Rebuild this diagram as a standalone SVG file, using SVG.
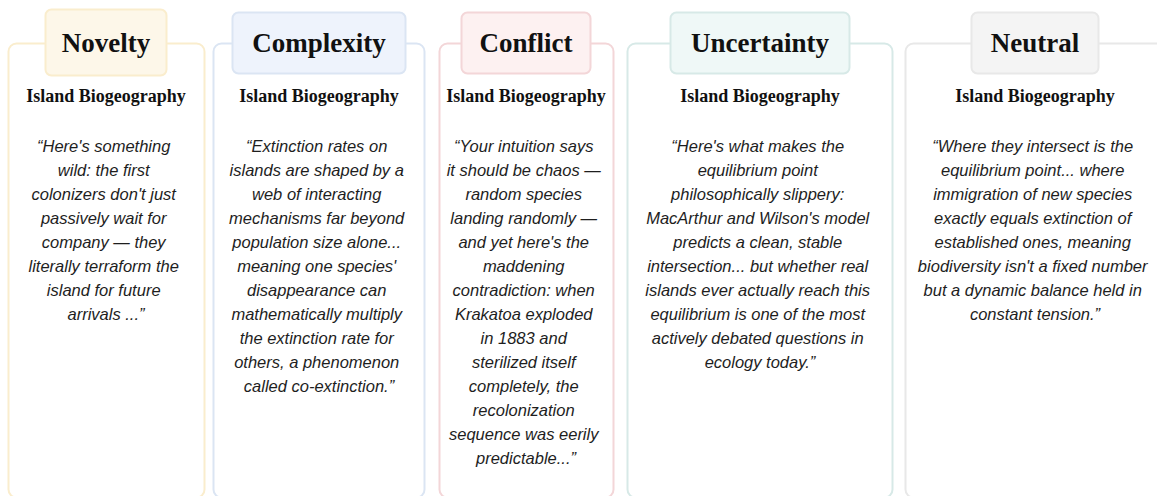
<svg xmlns="http://www.w3.org/2000/svg" width="1157" height="496" viewBox="0 0 1157 496">
<style>
  .box{fill:#ffffff;stroke-width:2}
  .hdr{stroke-width:2}
  .title{font-family:"Liberation Serif","Times New Roman",serif;font-weight:bold;font-size:27px;fill:#111;text-anchor:middle}
  .sub{font-family:"Liberation Serif","Times New Roman",serif;font-weight:bold;font-size:18px;fill:#111;text-anchor:middle}
  .q{font-family:"Liberation Sans",Arial,sans-serif;font-style:italic;font-size:16.5px;fill:#1e1e1e;text-anchor:middle}
  .nov{stroke:#faedcd}
  .nov.hdr{fill:#fdf7e9}
  .cpx{stroke:#dbe5f3}
  .cpx.hdr{fill:#eef3fc}
  .cfl{stroke:#f3d6d8}
  .cfl.hdr{fill:#fdf1f1}
  .unc{stroke:#d7e9e7}
  .unc.hdr{fill:#eff8f7}
  .neu{stroke:#e8e8e8}
  .neu.hdr{fill:#f4f4f4}
</style>
<rect width="1157" height="496" fill="#ffffff"/>

<g id="novelty">
  <rect class="box nov" x="8.5" y="43.5" width="196" height="454" rx="8"/>
  <rect class="hdr nov" x="45.5" y="9.5" width="121" height="66" rx="6"/>
  <text class="title" x="106" y="52">Novelty</text>
  <text class="sub" x="106" y="102">Island Biogeography</text>
  <text class="q">
    <tspan x="106" y="152">“Here's something</tspan>
    <tspan x="106" y="176">wild: the first</tspan>
    <tspan x="106" y="200">colonizers don't just</tspan>
    <tspan x="106" y="224">passively wait for</tspan>
    <tspan x="106" y="248">company — they</tspan>
    <tspan x="106" y="272">literally terraform the</tspan>
    <tspan x="106" y="296">island for future</tspan>
    <tspan x="106" y="320">arrivals ...”</tspan>
  </text>
</g>

<g id="complexity">
  <rect class="box cpx" x="213.5" y="43.5" width="211" height="454" rx="8"/>
  <rect class="hdr cpx" x="232.5" y="12.5" width="173" height="61" rx="6"/>
  <text class="title" x="319" y="52">Complexity</text>
  <text class="sub" x="319" y="102">Island Biogeography</text>
  <text class="q">
    <tspan x="319" y="152">“Extinction rates on</tspan>
    <tspan x="319" y="176">islands are shaped by a</tspan>
    <tspan x="319" y="200">web of interacting</tspan>
    <tspan x="319" y="224">mechanisms far beyond</tspan>
    <tspan x="319" y="248">population size alone...</tspan>
    <tspan x="319" y="272">meaning one species'</tspan>
    <tspan x="319" y="296">disappearance can</tspan>
    <tspan x="319" y="320">mathematically multiply</tspan>
    <tspan x="319" y="344">the extinction rate for</tspan>
    <tspan x="319" y="368">others, a phenomenon</tspan>
    <tspan x="319" y="392">called co-extinction.”</tspan>
  </text>
</g>

<g id="conflict">
  <rect class="box cfl" x="439.5" y="43.5" width="174" height="454" rx="8"/>
  <rect class="hdr cfl" x="461.5" y="12.5" width="129" height="61" rx="6"/>
  <text class="title" x="526" y="52">Conflict</text>
  <text class="sub" x="526" y="102">Island Biogeography</text>
  <text class="q">
    <tspan x="526" y="152">“Your intuition says</tspan>
    <tspan x="526" y="176">it should be chaos —</tspan>
    <tspan x="526" y="200">random species</tspan>
    <tspan x="526" y="224">landing randomly —</tspan>
    <tspan x="526" y="248">and yet here's the</tspan>
    <tspan x="526" y="272">maddening</tspan>
    <tspan x="526" y="296">contradiction: when</tspan>
    <tspan x="526" y="320">Krakatoa exploded</tspan>
    <tspan x="526" y="344">in 1883 and</tspan>
    <tspan x="526" y="368">sterilized itself</tspan>
    <tspan x="526" y="392">completely, the</tspan>
    <tspan x="526" y="416">recolonization</tspan>
    <tspan x="526" y="440">sequence was eerily</tspan>
    <tspan x="526" y="464">predictable...”</tspan>
  </text>
</g>

<g id="uncertainty">
  <rect class="box unc" x="627.5" y="43.5" width="265" height="454" rx="8"/>
  <rect class="hdr unc" x="670.5" y="12.5" width="179" height="61" rx="6"/>
  <text class="title" x="760" y="52">Uncertainty</text>
  <text class="sub" x="760" y="102">Island Biogeography</text>
  <text class="q">
    <tspan x="760" y="152">“Here's what makes the</tspan>
    <tspan x="760" y="176">equilibrium point</tspan>
    <tspan x="760" y="200">philosophically slippery:</tspan>
    <tspan x="760" y="224">MacArthur and Wilson's model</tspan>
    <tspan x="760" y="248">predicts a clean, stable</tspan>
    <tspan x="760" y="272">intersection... but whether real</tspan>
    <tspan x="760" y="296">islands ever actually reach this</tspan>
    <tspan x="760" y="320">equilibrium is one of the most</tspan>
    <tspan x="760" y="344">actively debated questions in</tspan>
    <tspan x="760" y="368">ecology today.”</tspan>
  </text>
</g>

<g id="neutral">
  <rect class="box neu" x="905.5" y="43.5" width="262" height="454" rx="8"/>
  <rect class="hdr neu" x="971.5" y="12.5" width="127" height="61" rx="6"/>
  <text class="title" x="1035" y="52">Neutral</text>
  <text class="sub" x="1035" y="102">Island Biogeography</text>
  <text class="q">
    <tspan x="1035" y="152">“Where they intersect is the</tspan>
    <tspan x="1035" y="176">equilibrium point... where</tspan>
    <tspan x="1035" y="200">immigration of new species</tspan>
    <tspan x="1035" y="224">exactly equals extinction of</tspan>
    <tspan x="1035" y="248">established ones, meaning</tspan>
    <tspan x="1035" y="272">biodiversity isn't a fixed number</tspan>
    <tspan x="1035" y="296">but a dynamic balance held in</tspan>
    <tspan x="1035" y="320">constant tension.”</tspan>
  </text>
</g>
</svg>
